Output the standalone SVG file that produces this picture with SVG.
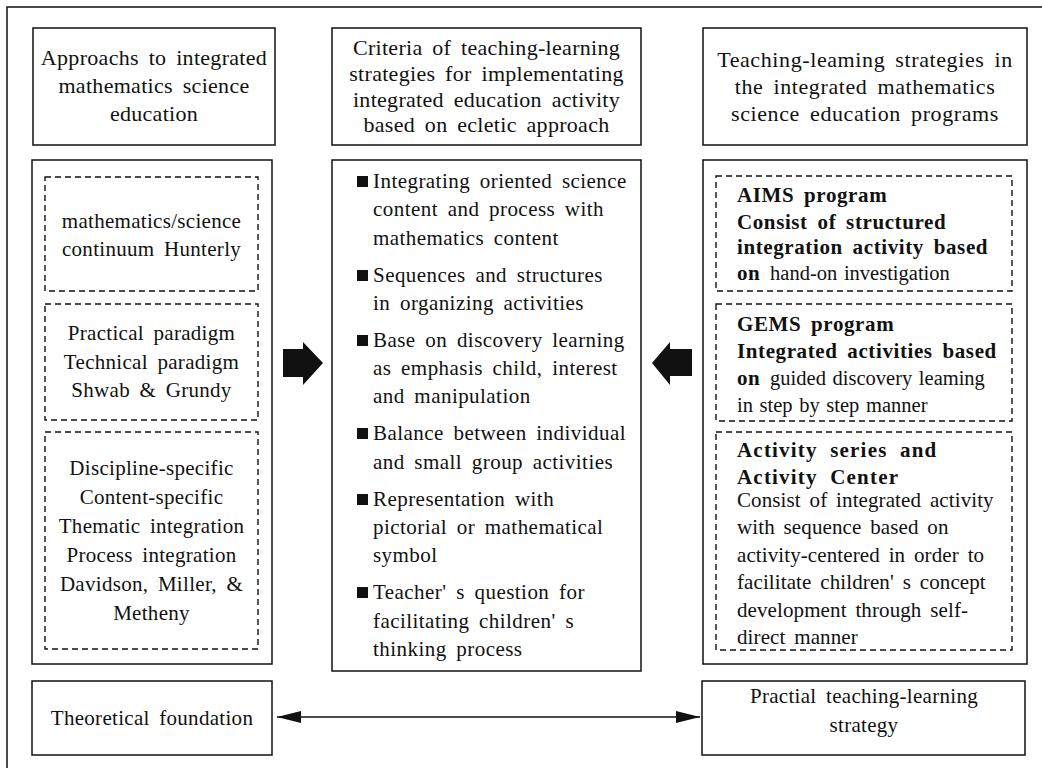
<svg xmlns="http://www.w3.org/2000/svg" width="1042" height="768" viewBox="0 0 1042 768">
  <defs>
    <style>
      .box { fill: #fff; stroke: #111; stroke-width: 1.5; }
      .dash { fill: none; stroke: #111; stroke-width: 1.4; stroke-dasharray: 6 4; }
      text { font-family: "Liberation Serif", "Times New Roman", serif; fill: #111; }
      .hd { font-size: 22px; text-anchor: middle; letter-spacing: 0.3px; word-spacing: 4px; }
      .c { font-size: 21px; text-anchor: middle; letter-spacing: 0.3px; word-spacing: 4px; }
      .l { font-size: 21px; letter-spacing: 0.45px; word-spacing: 4px; }
      .r { letter-spacing: 0.1px; word-spacing: 3.5px; }
      .b { font-weight: bold; letter-spacing: 0.6px; }
      .bw { letter-spacing: 1.2px; word-spacing: 6px; }
      .n { font-size: 20.5px; font-weight: normal; letter-spacing: 0; word-spacing: 1.5px; }
      .bul { fill: #111; }
    </style>
    <marker id="ah" viewBox="0 0 24 12" refX="24" refY="6" markerWidth="24" markerHeight="12" markerUnits="userSpaceOnUse" orient="auto-start-reverse">
      <path d="M0,0 L24,6 L0,12 Z" fill="#111"/>
    </marker>
  </defs>

  <rect width="1042" height="768" fill="#fff"/>
  <!-- outer frame (right and bottom edges run past the page) -->
  <rect x="7" y="7" width="1060" height="790" fill="none" stroke="#111" stroke-width="1.5"/>

  <!-- column headers -->
  <g id="header-approaches">
    <rect class="box" x="33" y="28" width="242" height="117"/>
    <text class="hd" x="154" y="65">Approachs to integrated</text>
    <text class="hd" x="154" y="93">mathematics science</text>
    <text class="hd" x="154" y="121">education</text>
  </g>
  <g id="header-criteria">
    <rect class="box" x="332" y="28" width="309" height="117"/>
    <text class="hd" x="486.5" y="55">Criteria of teaching-learning</text>
    <text class="hd" x="486.5" y="81">strategies for implementating</text>
    <text class="hd" x="486.5" y="107">integrated education activity</text>
    <text class="hd" x="486.5" y="132">based on ecletic approach</text>
  </g>
  <g id="header-strategies">
    <rect class="box" x="703" y="28" width="324" height="117"/>
    <text class="hd" x="865" y="67" style="letter-spacing:0.6px">Teaching-leaming strategies in</text>
    <text class="hd" x="865" y="94" style="letter-spacing:0.6px">the integrated mathematics</text>
    <text class="hd" x="865" y="121" style="letter-spacing:0.6px">science education programs</text>
  </g>

  <!-- left column: approaches -->
  <g id="approaches">
    <rect class="box" x="32" y="160" width="240" height="504"/>
    <g id="approach-hunterly">
      <rect class="dash" x="45" y="177" width="213" height="114"/>
      <text class="c" x="151.5" y="228">mathematics/science</text>
      <text class="c" x="151.5" y="256">continuum Hunterly</text>
    </g>
    <g id="approach-shwab">
      <rect class="dash" x="45" y="304" width="213" height="116"/>
      <text class="c" x="151.5" y="340">Practical paradigm</text>
      <text class="c" x="151.5" y="369">Technical paradigm</text>
      <text class="c" x="151.5" y="397">Shwab &amp; Grundy</text>
    </g>
    <g id="approach-davidson">
      <rect class="dash" x="45" y="432" width="213" height="217"/>
      <text class="c" x="151.5" y="475">Discipline-specific</text>
      <text class="c" x="151.5" y="504">Content-specific</text>
      <text class="c" x="151.5" y="533">Thematic integration</text>
      <text class="c" x="151.5" y="562">Process integration</text>
      <text class="c" x="151.5" y="591">Davidson, Miller, &amp;</text>
      <text class="c" x="151.5" y="620">Metheny</text>
    </g>
  </g>

  <!-- middle column: criteria -->
  <g id="criteria">
    <rect class="box" x="332" y="160" width="309" height="511"/>
    <rect class="bul" x="357" y="176" width="11" height="11"/>
    <text class="l" x="373" y="188">Integrating oriented science</text>
    <text class="l" x="373" y="216">content and process with</text>
    <text class="l" x="373" y="245">mathematics content</text>
    <rect class="bul" x="357" y="270" width="11" height="11"/>
    <text class="l" x="373" y="282">Sequences and structures</text>
    <text class="l" x="373" y="310">in organizing activities</text>
    <rect class="bul" x="357" y="335" width="11" height="11"/>
    <text class="l" x="373" y="347">Base on discovery learning</text>
    <text class="l" x="373" y="375">as emphasis child, interest</text>
    <text class="l" x="373" y="403">and manipulation</text>
    <rect class="bul" x="357" y="428" width="11" height="11"/>
    <text class="l" x="373" y="440">Balance between individual</text>
    <text class="l" x="373" y="469">and small group activities</text>
    <rect class="bul" x="357" y="494" width="11" height="11"/>
    <text class="l" x="373" y="506">Representation with</text>
    <text class="l" x="373" y="534">pictorial or mathematical</text>
    <text class="l" x="373" y="562">symbol</text>
    <rect class="bul" x="357" y="587" width="11" height="11"/>
    <text class="l" x="373" y="599">Teacher' s question for</text>
    <text class="l" x="373" y="628">facilitating children' s</text>
    <text class="l" x="373" y="656">thinking process</text>
  </g>

  <!-- right column: programs -->
  <g id="programs">
    <rect class="box" x="703" y="160" width="324" height="504"/>
    <g id="program-aims">
      <rect class="dash" x="716" y="176" width="296" height="115"/>
      <text class="l b" x="737" y="202">AIMS program</text>
      <text class="l b" x="737" y="229">Consist of structured</text>
      <text class="l b" x="737" y="254">integration activity based</text>
      <text class="l" x="737" y="280"><tspan class="b">on</tspan> <tspan class="n">hand-on investigation</tspan></text>
    </g>
    <g id="program-gems">
      <rect class="dash" x="716" y="304" width="296" height="117"/>
      <text class="l b" x="737" y="331">GEMS program</text>
      <text class="l b" x="737" y="358">Integrated activities based</text>
      <text class="l" x="737" y="385"><tspan class="b">on</tspan> <tspan class="n">guided discovery leaming</tspan></text>
      <text class="l n" x="737" y="412">in step by step manner</text>
    </g>
    <g id="program-activity">
      <rect class="dash" x="716" y="432" width="296" height="218"/>
      <text class="l b bw" x="737" y="457">Activity series and</text>
      <text class="l b bw" x="737" y="484">Activity Center</text>
      <text class="l r" x="737" y="507">Consist of integrated activity</text>
      <text class="l r" x="737" y="534">with sequence based on</text>
      <text class="l r" x="737" y="562">activity-centered in order to</text>
      <text class="l r" x="737" y="589">facilitate children' s concept</text>
      <text class="l r" x="737" y="617">development through self-</text>
      <text class="l r" x="737" y="644">direct manner</text>
    </g>
  </g>

  <!-- bottom boxes -->
  <g id="theoretical">
    <rect class="box" x="32" y="681" width="240" height="74"/>
    <text class="c" x="152" y="725">Theoretical foundation</text>
  </g>
  <g id="practical">
    <rect class="box" x="702" y="681" width="323" height="74"/>
    <text class="c" x="864" y="703">Practial teaching-learning</text>
    <text class="c" x="864" y="732">strategy</text>
  </g>

  <!-- connectors -->
  <g id="connectors">
    <polygon points="283,349 303,349 303,342 323,363 303,385 303,377 283,377" fill="#111"/>
    <polygon points="652,363 670,342 670,349 692,349 692,376 670,376 670,385" fill="#111"/>
    <line x1="277" y1="717" x2="700" y2="717" stroke="#111" stroke-width="1.5" marker-start="url(#ah)" marker-end="url(#ah)"/>
  </g>
</svg>
